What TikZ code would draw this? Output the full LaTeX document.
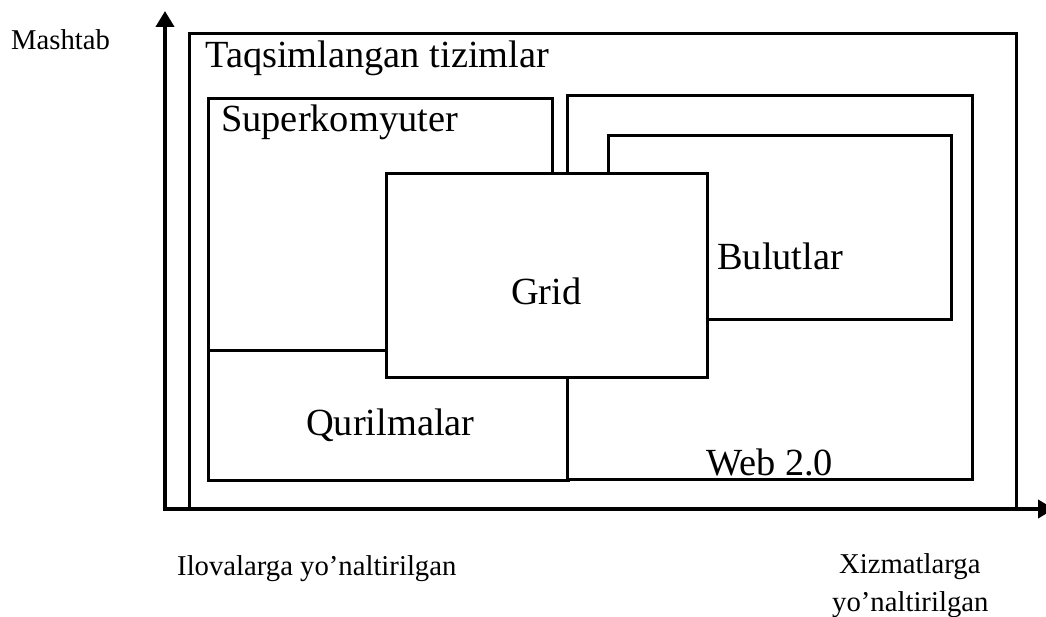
\documentclass[tikz,border=0pt]{standalone}
\usepackage{fontspec}
\setmainfont{Liberation Serif}
\usetikzlibrary{arrows.meta}
\begin{document}
\begin{tikzpicture}[x=1pt,y=-1pt,
  box/.style={draw=black,line width=3.2pt,fill=white,inner sep=0pt,anchor=north west},
  big/.style={font=\fontsize{38.4}{42}\selectfont,inner sep=0pt,anchor=base west},
  small/.style={font=\fontsize{28.7}{32}\selectfont,inner sep=0pt,anchor=base west},
  axis/.style={line width=4.8pt,-{Triangle[length=16pt,width=18pt]}}]
\useasboundingbox (0,0) rectangle (1046,617);
% boxes
\node[box,minimum width=827pt,minimum height=475pt] (outer) at (188,32) {};
\node[box,minimum width=344pt,minimum height=252pt] (super) at (207,97) {};
\node[box,minimum width=360pt,minimum height=130pt] (quril) at (207,349) {};
\node[box,minimum width=405pt,minimum height=384pt] (web) at (566,94) {};
\node[box,minimum width=343pt,minimum height=184pt] (bulut) at (607,134) {};
\node[box,minimum width=321pt,minimum height=204pt] (grid) at (385,172) {};
% axes
\coordinate (o) at (165,509);
\coordinate (ytip) at (165,11);
\coordinate (xtip) at (1054,509);
\draw[axis] (o) -- (ytip);
\draw[axis] ([xshift=-2.4pt]o) -- (xtip);
% labels
\node[big] (tTaq) at (205,68) {Taqsimlangan tizimlar};
\node[big] (tSup) at (221,132) {Superkomyuter};
\node[big] (tGrid) at (511,305) {Grid};
\node[big] (tBul) at (717,270) {Bulutlar};
\node[big] (tQur) at (306,435) {Qurilmalar};
\node[big] (tWeb) at (706,475) {Web 2.0};
\node[small] (tMash) at (11,50) {Mashtab};
\node[small] (tIlov) at (177,575) {Ilovalarga yo’naltirilgan};
\node[small] (tXiz) at (839,573) {Xizmatlarga};
\node[small] (tYo) at (832,611) {yo’naltirilgan};
\end{tikzpicture}
\end{document}
